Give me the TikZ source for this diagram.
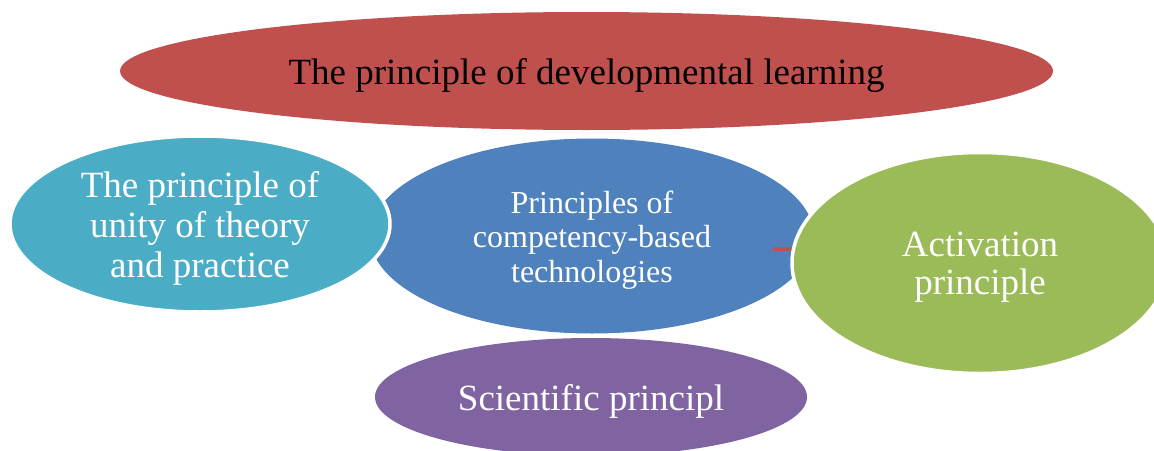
\documentclass[tikz,border=0pt]{standalone}
\usepackage{fontspec}
\setmainfont{Liberation Serif}
\usetikzlibrary{shapes.geometric}
\definecolor{prred}{HTML}{C0504D}
\definecolor{prblue}{HTML}{4F81BD}
\definecolor{prcyan}{HTML}{4BACC6}
\definecolor{prgreen}{HTML}{9BBB59}
\definecolor{prpurple}{HTML}{8064A2}
\tikzset{
  oval/.style={ellipse, inner sep=0pt},
  rimmed/.style={oval, draw=white, line width=3.5pt},
  caption/.style={align=center, text=white, inner sep=0pt, yshift=-4pt,
    font=\fontsize{37}{40}\selectfont},
  tick/.style={draw=prred, line width=4.5pt}
}
\begin{document}
\begin{tikzpicture}[x=1pt, y=-1pt]
  \useasboundingbox (0,0) rectangle (1154,450);
  % top banner
  \node[oval, fill=prred, minimum width=933pt, minimum height=118pt]
    (dev) at (586.5,71) {};
  \node[caption, text=black] (devtext) at (dev.center)
    {The principle of developmental learning};
  % central principle
  \node[oval, fill=prblue, minimum width=444pt, minimum height=195pt]
    (comp) at (592,236) {};
  \node[caption, font=\fontsize{32}{34.5}\selectfont] (comptext) at (comp.center)
    {Principles of\\competency-based\\technologies};
  % bottom
  \node[oval, fill=prpurple, minimum width=432pt, minimum height=118pt]
    (sci) at (591,397) {};
  \node[caption] (scitext) at (sci.center) {Scientific principl};
  % left, outlined in white
  \node[rimmed, fill=prcyan, minimum width=380pt, minimum height=176pt]
    (unity) at (200,224) {};
  \node[caption] (unitytext) at (unity.center)
    {The principle of\\unity of theory\\and practice};
  % short red stub under the right oval
  \coordinate (stubA) at (773,249);
  \coordinate (stubB) at (792,249);
  \draw[tick] (stubA) -- (stubB);
  % right, outlined in white
  \node[rimmed, fill=prgreen, minimum width=376pt, minimum height=221pt]
    (act) at (980,263) {};
  \node[caption, font=\fontsize{37}{38.5}\selectfont] (acttext) at (act.center)
    {Activation\\principle};
\end{tikzpicture}
\end{document}
